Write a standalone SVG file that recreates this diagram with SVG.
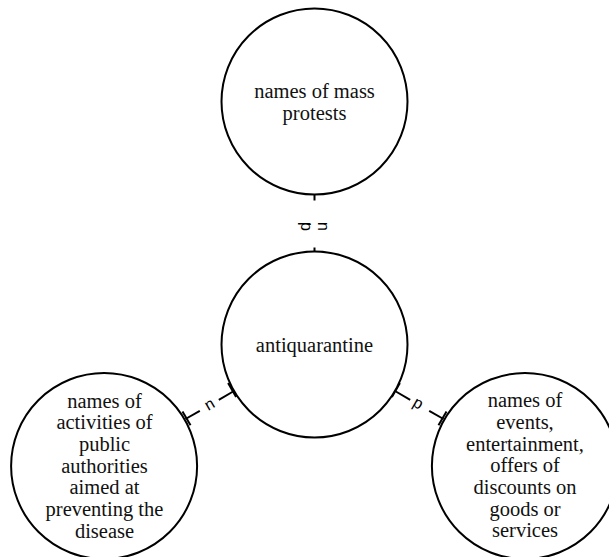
<svg xmlns="http://www.w3.org/2000/svg" width="609" height="557" viewBox="0 0 609 557">
  <style>
    .node circle { fill: #ffffff; stroke: #000000; stroke-width: 2; }
    .links line { stroke: #000000; stroke-width: 2; fill: none; }
  </style>
  <rect width="609" height="557" fill="#ffffff"/>

  <!-- connectors: line pieces with a tangent tick at each circle end, label in the gap -->
  <g id="links" class="links" font-family="'Liberation Sans', Arial, sans-serif" font-size="16" fill="#000000">
    <!-- top node to centre -->
    <line x1="314.5" y1="194.5" x2="314.5" y2="200.5"/>
    <line x1="314.5" y1="247.5" x2="314.5" y2="251.5"/>
    <text x="300.5" y="222" rotate="90 90 90 90">p, n</text>

    <!-- left node to centre -->
    <line x1="185.5" y1="419" x2="199.8" y2="410.8"/>
    <line x1="218.8" y1="399.8" x2="233.1" y2="391.5"/>
    <line x1="190.5" y1="425.3" x2="182.5" y2="411.5"/>
    <line x1="236.1" y1="396.9" x2="228.1" y2="383.1"/>
    <text x="208.25" y="410.9" rotate="-30">n</text>

    <!-- centre to right node -->
    <line x1="395.9" y1="391.5" x2="410.2" y2="399.8"/>
    <line x1="429.2" y1="410.8" x2="443.5" y2="419"/>
    <line x1="391.9" y1="396.9" x2="399.9" y2="383.1"/>
    <line x1="438.5" y1="425.3" x2="446.5" y2="411.5"/>
    <text x="411.7" y="405.45" rotate="30">p</text>
  </g>

  <g font-family="'Liberation Serif', 'Times New Roman', serif" font-size="20.5" fill="#111111" text-anchor="middle">
    <g id="node-mass-protests" class="node">
      <circle cx="314.5" cy="101.5" r="93"/>
      <text x="314.5" y="98.2">names of mass</text>
      <text x="314.5" y="119.9">protests</text>
    </g>

    <g id="node-antiquarantine" class="node">
      <circle cx="314.5" cy="344.5" r="93"/>
      <text x="314.5" y="352.3">antiquarantine</text>
    </g>

    <g id="node-public-authorities" class="node">
      <circle cx="104.1" cy="466" r="93"/>
      <text x="104.5" y="407.8">names of</text>
      <text x="104.5" y="429.45">activities of</text>
      <text x="104.5" y="451.1">public</text>
      <text x="104.5" y="472.75">authorities</text>
      <text x="104.5" y="494.4">aimed at</text>
      <text x="104.5" y="516.05">preventing the</text>
      <text x="104.5" y="537.7">disease</text>
    </g>

    <g id="node-events-discounts" class="node">
      <circle cx="524.9" cy="466" r="93"/>
      <text x="525" y="407.3">names of</text>
      <text x="525" y="428.95">events,</text>
      <text x="525" y="450.6">entertainment,</text>
      <text x="525" y="472.25">offers of</text>
      <text x="525" y="493.9">discounts on</text>
      <text x="525" y="515.55">goods or</text>
      <text x="525" y="537.2">services</text>
    </g>
  </g>
</svg>
